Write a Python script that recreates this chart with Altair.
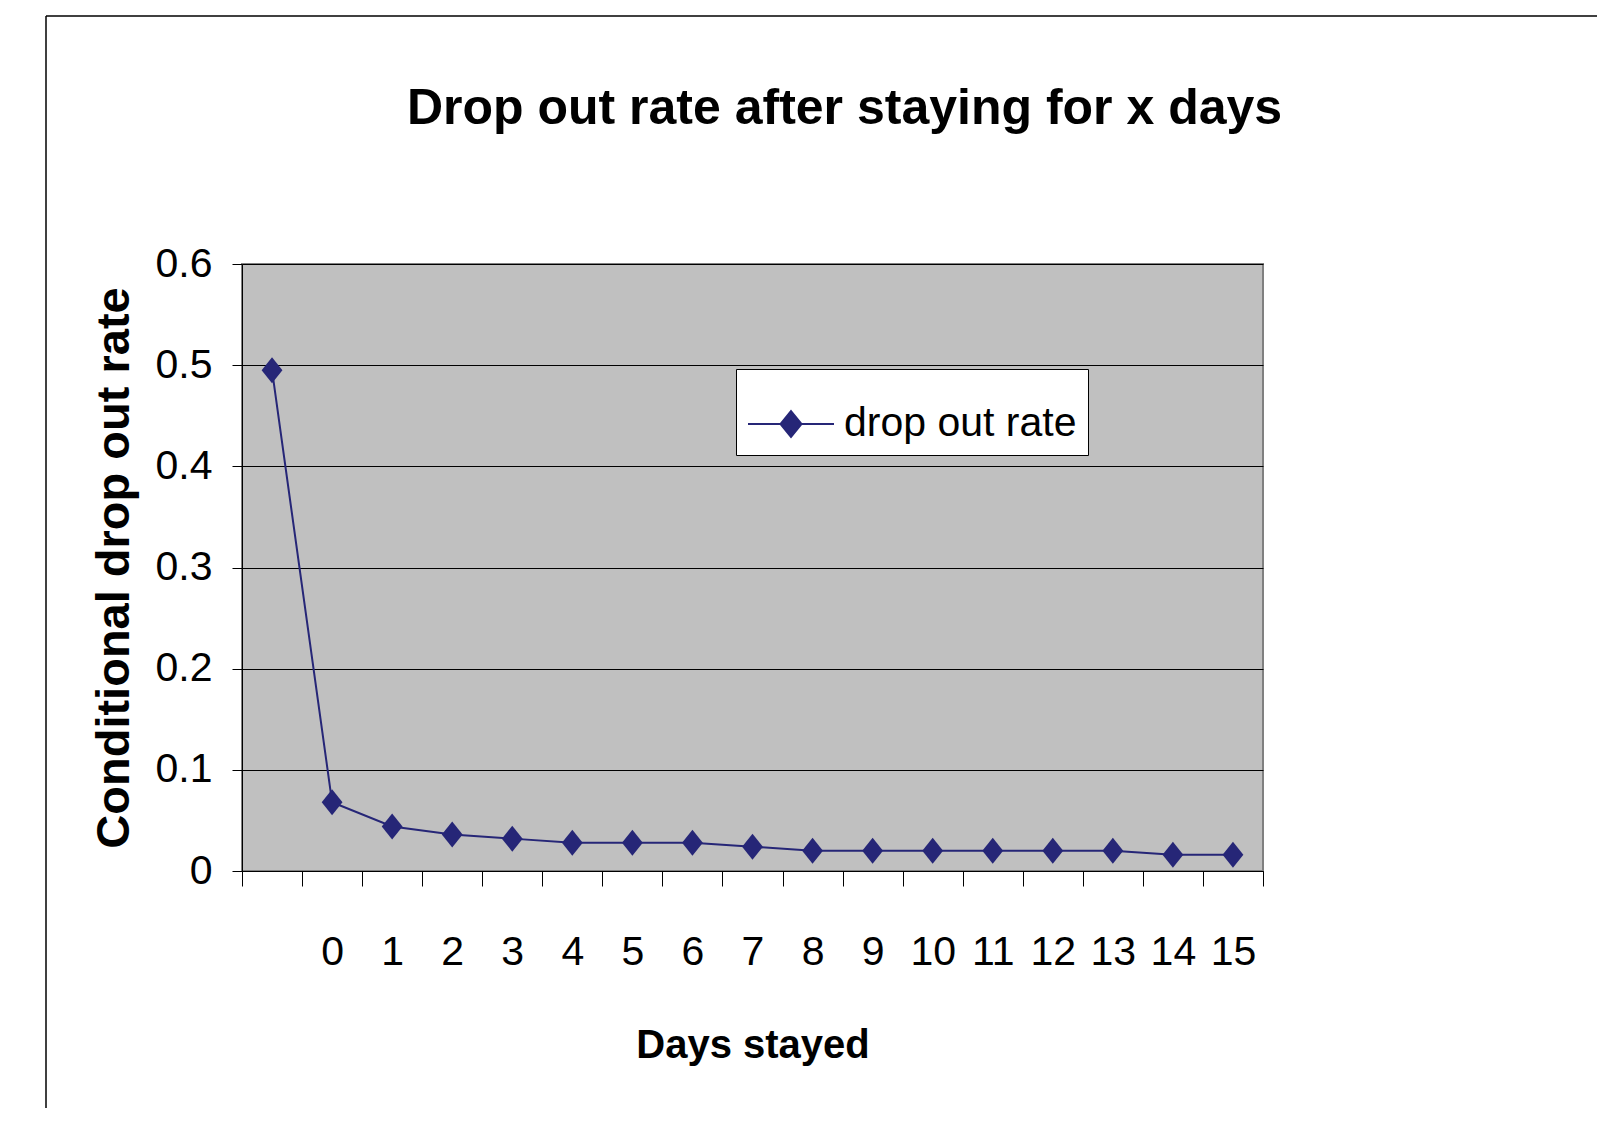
import altair as alt
import pandas as pd

# ---- data ----
day_labels = ["", "0", "1", "2", "3", "4", "5", "6", "7", "8", "9", "10",
              "11", "12", "13", "14", "15"]
drop_rate = [0.495, 0.068, 0.044, 0.036, 0.032, 0.028, 0.028, 0.028, 0.024,
             0.020, 0.020, 0.020, 0.020, 0.020, 0.020, 0.016, 0.016]
series_name = ["drop out rate"] * len(day_labels)
y_ticks = [0, 0.1, 0.2, 0.3, 0.4, 0.5, 0.6]

df = pd.DataFrame({"day": day_labels, "rate": drop_rate, "series": series_name})

NAVY = "#262677"
FONT = "Liberation Sans, Arial"
W, H = 1021, 607

diamond_pt = "M0,-1L0.8,0L0,1L-0.8,0Z"
legend_sym = "M-1,0L1,0M0,-0.3L0.244,0L0,0.3L-0.244,0Z"

color = alt.Color(
    "series:N",
    scale=alt.Scale(domain=["drop out rate"], range=[NAVY]),
    legend=alt.Legend(
        title=None, orient="none", legendX=494, legendY=105,
        fillColor="white", strokeColor="black",
        padding=11, symbolType=legend_sym, symbolSize=7396,
        symbolStrokeWidth=2, symbolFillColor=NAVY, symbolStrokeColor=NAVY,
        labelFont=FONT, labelFontSize=41, labelColor="black",
        labelOffset=9, labelLimit=0,
    ),
)

x_enc = alt.X(
    "day:N",
    scale=alt.Scale(type="band", domain=day_labels, paddingInner=0, paddingOuter=0),
    sort=day_labels,
    axis=alt.Axis(
        tickBand="extent", tickSize=15, tickColor="black", domainColor="black",
        labelAngle=0, labelFont=FONT, labelFontSize=41, labelColor="black",
        labelPadding=46, title="Days stayed", titleFont=FONT,
        titleFontSize=40, titleFontWeight="bold", titleColor="black",
        titleY=186, titleBaseline="alphabetic",
    ),
)
y_enc = alt.Y(
    "rate:Q",
    scale=alt.Scale(domain=[0, 0.6], nice=False),
    axis=alt.Axis(
        values=y_ticks, format=".1~f", tickSize=10, tickColor="black",
        domainColor="black", grid=True, gridColor="black", gridWidth=1,
        labelFont=FONT, labelFontSize=41, labelColor="black", labelPadding=20,
        title="Conditional drop out rate", titleFont=FONT, titleFontSize=47,
        titleFontWeight="bold", titleColor="black", titleX=-114,
        titleY=H / 2, titleBaseline="alphabetic", titleAngle=270,
    ),
)

base = alt.Chart(df)
line = base.mark_line(strokeWidth=2).encode(x=x_enc, y=y_enc, color=color)
pts = base.mark_point(filled=True, shape=diamond_pt, size=676, opacity=1).encode(
    x=x_enc, y=y_enc, color=color)

frame_df = pd.DataFrame({"k": [0]})
frame_left = alt.Chart(frame_df).mark_rule(color="black", strokeWidth=1.5).encode(
    x=alt.value(-196), y=alt.value(-248), y2=alt.value(900))
frame_top = alt.Chart(frame_df).mark_rule(color="black", strokeWidth=1.5).encode(
    x=alt.value(-196), x2=alt.value(1400), y=alt.value(-248))

chart = alt.layer(frame_left, frame_top, line, pts).properties(
    width=W, height=H,
    background="white",
    title=alt.TitleParams(
        "Drop out rate after staying for x days", font=FONT, fontSize=50,
        fontWeight="bold", color="black", anchor="middle", frame="group",
        dx=92, baseline="alphabetic", offset=-159,
    ),
    autosize=alt.AutoSizeParams(type="none"),
    padding={"left": 234, "top": 256, "right": 334, "bottom": 237},
).configure_view(
    fill="#C0C0C0", stroke="#808080", strokeWidth=2
)

chart.save("out.html", embed_options={"renderer": "svg", "actions": False})
